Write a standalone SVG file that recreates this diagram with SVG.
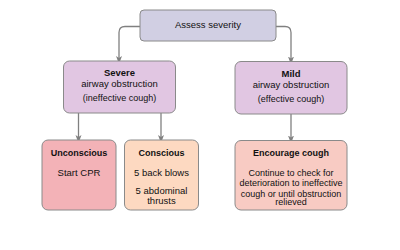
<svg xmlns="http://www.w3.org/2000/svg" width="400" height="250" viewBox="0 0 400 250">
<defs>
<marker id="arr" markerWidth="8" markerHeight="8" refX="4" refY="4" orient="auto" markerUnits="userSpaceOnUse">
<path d="M0,1 L8,4 L0,7 L2,4 Z" fill="#808080"/>
</marker>
</defs>
<style>
.box{stroke:#8a8a8a;stroke-width:1}
.t{font-family:"Liberation Sans",Arial,sans-serif;font-size:9.5px;fill:#111;text-anchor:middle}
.b{font-weight:bold}
.s{font-size:9px}
.c{fill:none;stroke:#808080;stroke-width:1.3}
</style>
<rect width="400" height="250" fill="#ffffff"/>
<g id="connectors">
<path class="c" d="M140,26.5 H125 Q119,26.5 119,32.5 V60" marker-end="url(#arr)"/>
<path class="c" d="M276,26.5 H285 Q291,26.5 291,32.5 V60.5" marker-end="url(#arr)"/>
<path class="c" d="M78.5,113 V139" marker-end="url(#arr)"/>
<path class="c" d="M161,113 V139" marker-end="url(#arr)"/>
<path class="c" d="M291,114 V139.5" marker-end="url(#arr)"/>
</g>
<g id="assess">
<rect class="box" x="140" y="10" width="136" height="31" rx="4" fill="#d1cfe3"/>
<text class="t" x="208" y="27.5">Assess severity</text>
</g>
<g id="severe">
<rect class="box" x="63.5" y="61" width="112" height="52" rx="6" fill="#e1c6e2"/>
<text class="t b" x="119.5" y="76">Severe</text>
<text class="t" x="119.5" y="87">airway obstruction</text>
<text class="t s" x="119.5" y="101">(ineffective cough)</text>
</g>
<g id="mild">
<rect class="box" x="235" y="61.5" width="112" height="52.5" rx="6" fill="#e1c6e2"/>
<text class="t b" x="291" y="76.5">Mild</text>
<text class="t" x="291" y="87.5">airway obstruction</text>
<text class="t s" x="291" y="101.5">(effective cough)</text>
</g>
<g id="unconscious">
<rect class="box" x="42" y="140" width="74" height="70" rx="6" fill="#f3b2b7"/>
<text class="t b s" x="79" y="156">Unconscious</text>
<text class="t" x="79" y="175.5">Start CPR</text>
</g>
<g id="conscious">
<rect class="box" x="124.5" y="140" width="74" height="70" rx="6" fill="#fdd9c1"/>
<text class="t b s" x="161.5" y="156">Conscious</text>
<text class="t" x="161.5" y="175.5">5 back blows</text>
<text class="t" x="161.5" y="194">5 abdominal</text>
<text class="t" x="161.5" y="204">thrusts</text>
</g>
<g id="encourage">
<rect class="box" x="235" y="140.5" width="112" height="69.5" rx="6" fill="#f8cbc3"/>
<text class="t b s" x="291" y="156">Encourage cough</text>
<text class="t s" x="291" y="175.5">Continue to check for</text>
<text class="t s" x="291" y="186">deterioration to ineffective</text>
<text class="t s" x="291" y="196.5">cough or until obstruction</text>
<text class="t s" x="291" y="205">relieved</text>
</g>
</svg>
